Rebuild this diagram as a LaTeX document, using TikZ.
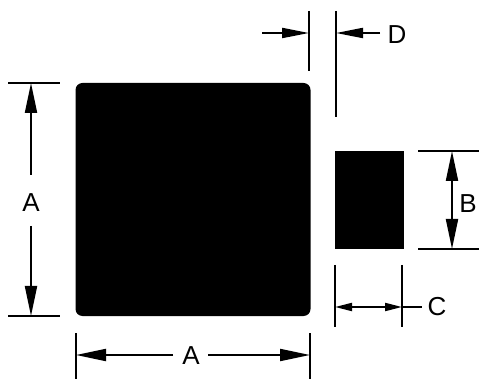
\documentclass[tikz,border=0pt]{standalone}
\usepackage{fontspec}
\setmainfont{Liberation Sans}
\usetikzlibrary{arrows.meta}
\begin{document}
\begin{tikzpicture}[x=1pt,y=-1pt,line width=2pt,
  lbl/.style={inner sep=0pt,font=\fontsize{26}{26}\selectfont},
  pad/.style={fill=black,draw=none,inner sep=0pt},
  tipbig/.style={-{Triangle[length=30pt,width=12pt]}},
  tipd/.style={-{Triangle[length=27pt,width=10pt]}},
  tipb/.style={{Triangle[length=30pt,width=12pt]}-{Triangle[length=30pt,width=12pt]}},
  tipc/.style={{Triangle[length=17pt,width=8pt]}-{Triangle[length=17pt,width=8pt]}}]
\useasboundingbox (0,0) rectangle (479,379);
% pads
\node[pad,rounded corners=7pt,minimum width=235pt,minimum height=233pt] (big) at (193,199.5) {};
\node[pad,minimum width=69pt,minimum height=98pt] (small) at (369.5,200) {};
% left A
\coordinate (a1) at (31,83); \coordinate (a2) at (31,316);
\draw (8,83) -- (60,83);
\draw (8,316) -- (60,316);
\node[lbl] (la) at (31,203) {A};
\draw[tipbig] (31,175) -- (a1);
\draw[tipbig] (31,226) -- (a2);
% bottom A
\coordinate (b1) at (76,355); \coordinate (b2) at (310,355);
\draw (76,333) -- (76,379);
\draw (310,333) -- (310,379);
\node[lbl] (lb) at (191,356) {A};
\draw[tipbig] (173,355) -- (b1);
\draw[tipbig] (208,355) -- (b2);
% D
\coordinate (d1) at (309,33); \coordinate (d2) at (336,33);
\draw (309,11) -- (309,71);
\draw (336,11) -- (336,117);
\draw[tipd] (262,33) -- (d1);
\draw[tipd] (380,33) -- (d2);
\node[lbl] (ld) at (397,35) {D};
% B
\coordinate (e1) at (452,151); \coordinate (e2) at (452,249);
\draw (418,151) -- (479,151);
\draw (418,249) -- (479,249);
\draw[tipb] (e1) -- (e2);
\node[lbl] (lbB) at (468,204) {B};
% C
\coordinate (c1) at (335,307); \coordinate (c2) at (402,307);
\draw (335,265) -- (335,327);
\draw (402,265) -- (402,327);
\draw[tipc] (c1) -- (c2);
\draw (c2) -- (422,307);
\node[lbl] (lc) at (437,307) {C};
\end{tikzpicture}
\end{document}
